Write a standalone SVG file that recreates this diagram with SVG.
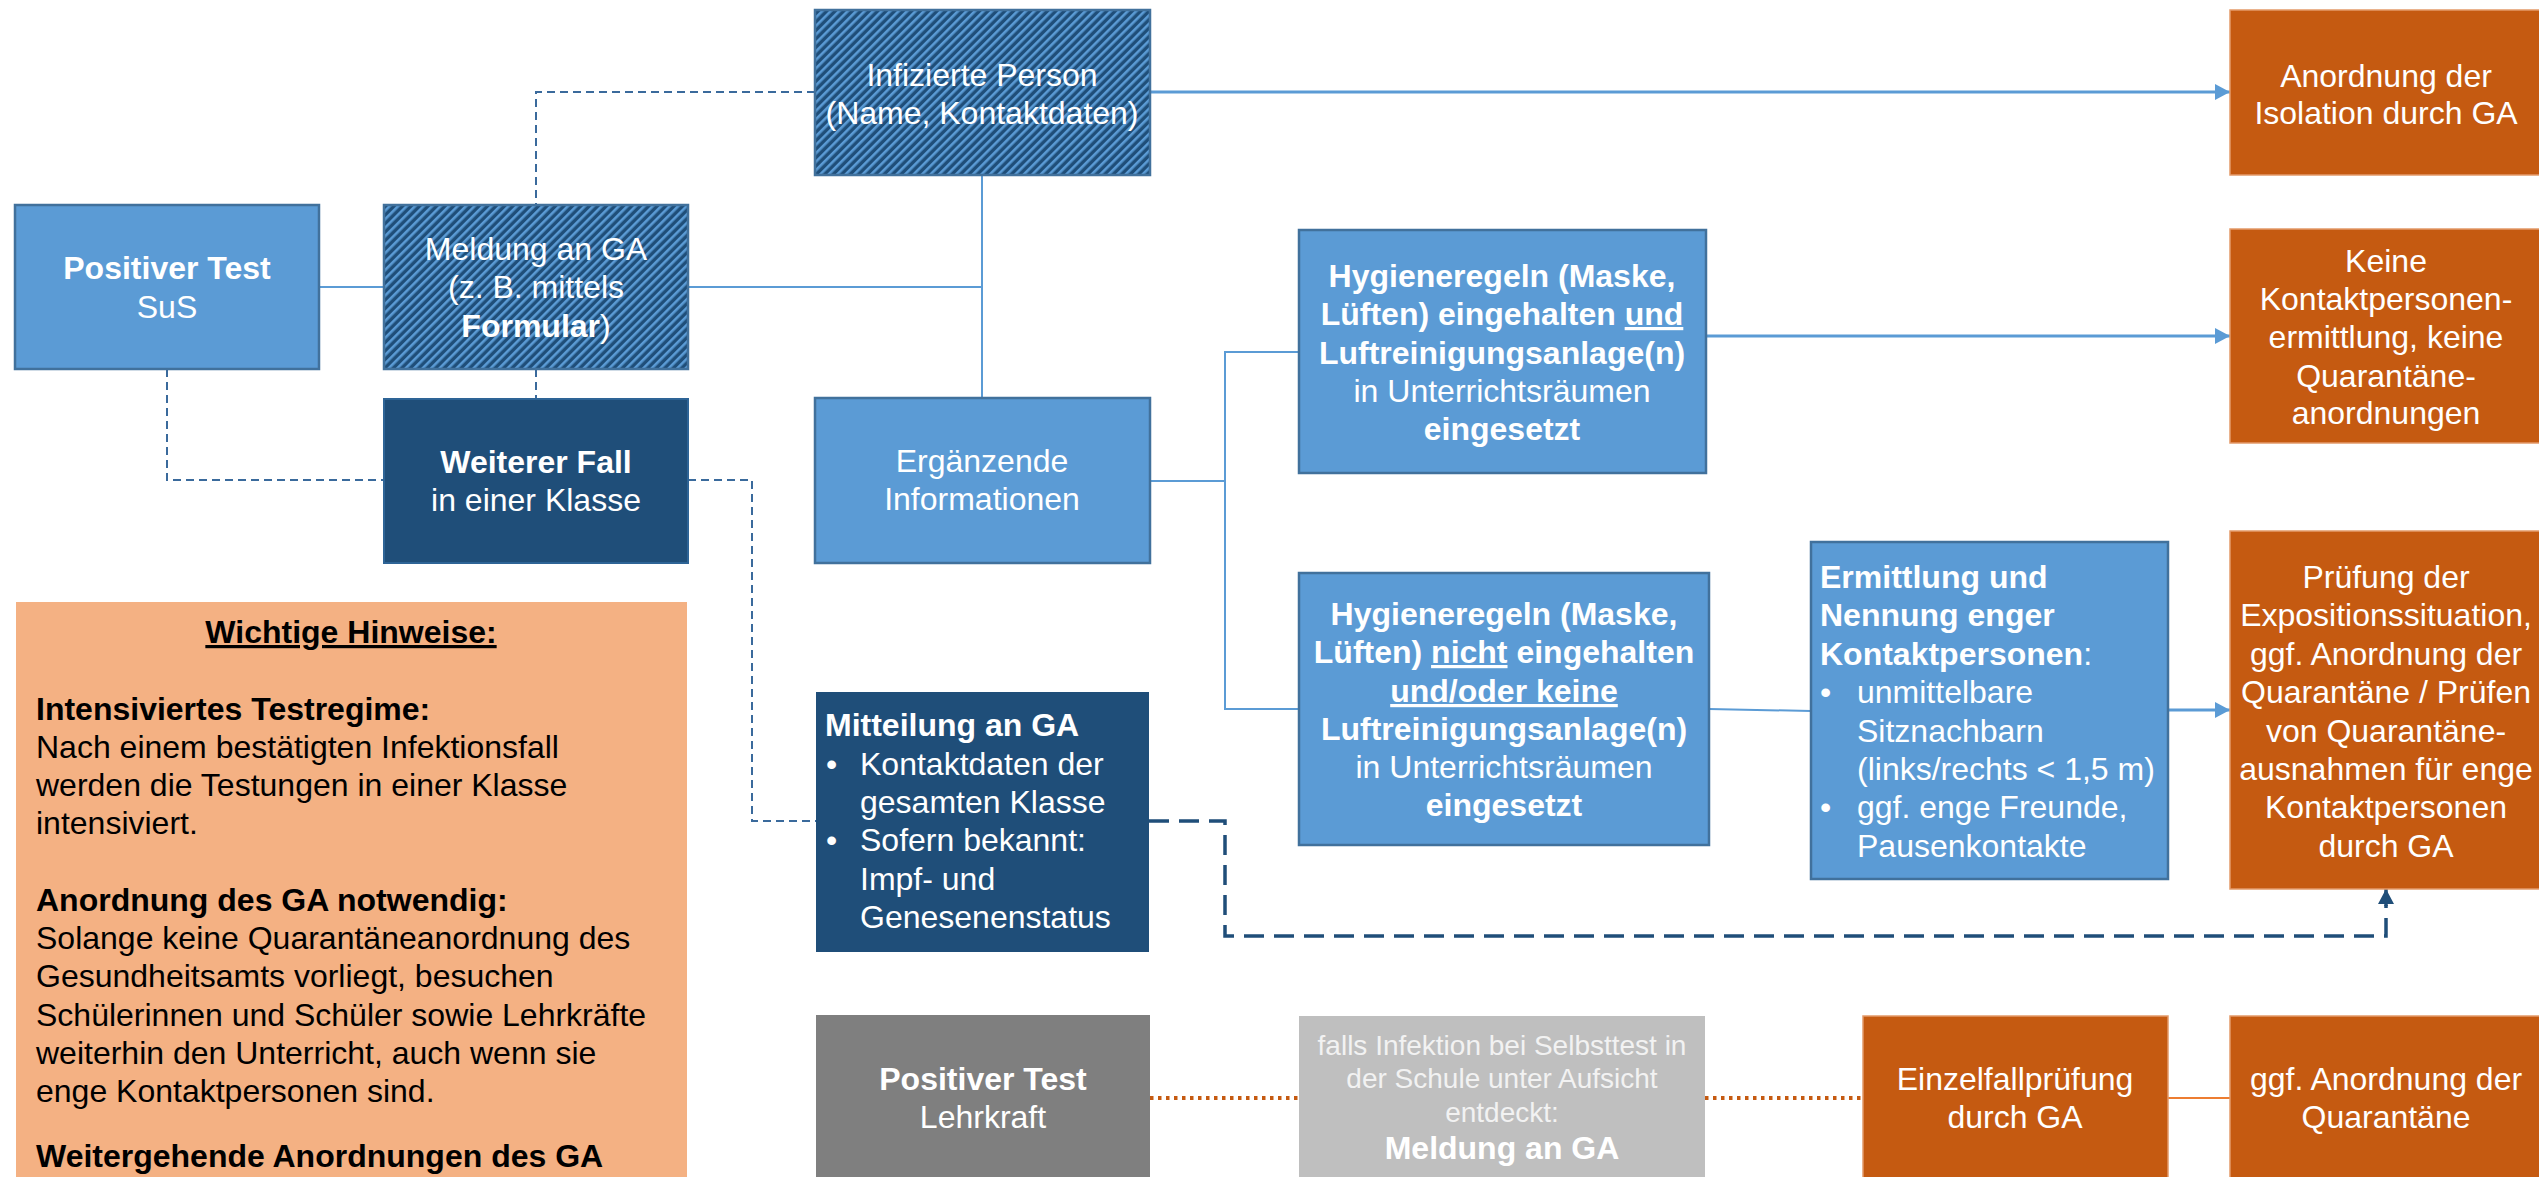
<svg xmlns="http://www.w3.org/2000/svg" width="2539" height="1177" viewBox="0 0 2539 1177">
<style>
text{font-family:"Liberation Sans",Arial,sans-serif;font-size:32px;fill:#fff}
.c{text-anchor:middle}
.b{font-weight:bold}
.k{fill:#000}
.g{fill:#F2F2F2;font-size:28px}
.blue{fill:#5B9BD5;stroke:#41719C;stroke-width:2.5}
.dark{fill:#1F4E79;stroke:#2E6496;stroke-width:2}
.hat{fill:url(#hatch);stroke:#41719C;stroke-width:2.5}
.org{fill:#C55A11;stroke:#E39A6A;stroke-width:1.5}
.ln{fill:none;stroke:#5B9BD5;stroke-width:2}
.ar{fill:none;stroke:#5B9BD5;stroke-width:3}
.dsh{fill:none;stroke:#3A6A9C;stroke-width:2;stroke-dasharray:8 5}
.dsh2{fill:none;stroke:#1F4E79;stroke-width:3.5;stroke-dasharray:20 10}
.dot{fill:none;stroke:#C55A11;stroke-width:4;stroke-dasharray:3.5 4.5}
</style>
<defs>
<pattern id="hatch" patternUnits="userSpaceOnUse" width="6" height="6" patternTransform="rotate(45)">
<rect width="6" height="6" fill="#1F4E79"/>
<rect width="2.6" height="6" fill="#5B9BD5"/>
</pattern>
<marker id="ab" markerUnits="userSpaceOnUse" markerWidth="16" markerHeight="18" refX="15" refY="8" orient="auto">
<path d="M0,0 L15,8 L0,16 Z" fill="#5B9BD5"/>
</marker>
<marker id="ad" markerUnits="userSpaceOnUse" markerWidth="16" markerHeight="18" refX="15" refY="8" orient="auto">
<path d="M0,0 L15,8 L0,16 Z" fill="#1F4E79"/>
</marker>
</defs>
<rect width="2539" height="1177" fill="#fff"/>

<g id="connectors">
<line class="ln" x1="319" y1="287" x2="384" y2="287"/>
<line class="ln" x1="688" y1="287" x2="982" y2="287"/>
<line class="ln" x1="982" y1="175" x2="982" y2="398"/>
<line class="ar" x1="1150" y1="92" x2="2230" y2="92" marker-end="url(#ab)"/>
<path class="dsh" d="M815,92 H536 V205"/>
<path class="dsh" d="M536,369 V399"/>
<path class="dsh" d="M167,369 V480 H384"/>
<path class="dsh" d="M688,480 H752 V821 H816"/>
<path class="ln" d="M1150,481 H1225"/>
<path class="ln" d="M1299,352 H1225 V709 H1299"/>
<line class="ar" x1="1706" y1="336" x2="2230" y2="336" marker-end="url(#ab)"/>
<line class="ln" x1="1709" y1="709" x2="1811" y2="711"/>
<line class="ar" x1="2168" y1="710" x2="2230" y2="710" marker-end="url(#ab)"/>
<path class="dsh2" d="M1149,821 H1225 V936 H2386 V905"/>
<line x1="2386" y1="906" x2="2386" y2="889" stroke="#1F4E79" stroke-width="3.5" marker-end="url(#ad)"/>
<line class="dot" x1="1150" y1="1098" x2="1299" y2="1098"/>
<line class="dot" x1="1705" y1="1098" x2="1863" y2="1098"/>
<line x1="2168" y1="1098" x2="2230" y2="1098" stroke="#ED7D31" stroke-width="2"/>
</g>

<g id="positiver-test-sus">
<rect class="blue" x="15" y="205" width="304" height="164"/>
<text class="c b" x="167" y="279">Positiver Test</text>
<text class="c" x="167" y="318">SuS</text>
</g>

<g id="meldung-an-ga">
<rect class="hat" x="384" y="205" width="304" height="164"/>
<text class="c" x="536" y="260">Meldung an GA</text>
<text class="c" x="536" y="298">(z. B. mittels</text>
<text class="c" x="536" y="337"><tspan class="b">Formular</tspan>)</text>
</g>

<g id="weiterer-fall">
<rect class="dark" x="384" y="399" width="304" height="164"/>
<text class="c b" x="536" y="473">Weiterer Fall</text>
<text class="c" x="536" y="511">in einer Klasse</text>
</g>

<g id="infizierte-person">
<rect class="hat" x="815" y="10" width="335" height="165"/>
<text class="c" x="982" y="86">Infizierte Person</text>
<text class="c" x="982" y="124">(Name, Kontaktdaten)</text>
</g>

<g id="ergaenzende-informationen">
<rect class="blue" x="815" y="398" width="335" height="165"/>
<text class="c" x="982" y="472">Ergänzende</text>
<text class="c" x="982" y="510">Informationen</text>
</g>

<g id="mitteilung-an-ga">
<rect x="816" y="692" width="333" height="260" fill="#1F4E79"/>
<text class="b" x="825" y="736">Mitteilung an GA</text>
<text x="826" y="775">•</text>
<text x="860" y="775">Kontaktdaten der</text>
<text x="860" y="813">gesamten Klasse</text>
<text x="826" y="851">•</text>
<text x="860" y="851">Sofern bekannt:</text>
<text x="860" y="890">Impf- und</text>
<text x="860" y="928">Genesenenstatus</text>
</g>

<g id="positiver-test-lehrkraft">
<rect x="816" y="1015" width="334" height="180" fill="#7F7F7F"/>
<text class="c b" x="983" y="1090">Positiver Test</text>
<text class="c" x="983" y="1128">Lehrkraft</text>
</g>

<g id="hygiene-eingehalten">
<rect class="blue" x="1299" y="230" width="407" height="243"/>
<text class="c b" x="1502" y="287">Hygieneregeln (Maske,</text>
<text class="c b" x="1502" y="325">Lüften) eingehalten <tspan text-decoration="underline">und</tspan></text>
<text class="c b" x="1502" y="364">Luftreinigungsanlage(n)</text>
<text class="c" x="1502" y="402">in Unterrichtsräumen</text>
<text class="c b" x="1502" y="440">eingesetzt</text>
</g>

<g id="hygiene-nicht-eingehalten">
<rect class="blue" x="1299" y="573" width="410" height="272"/>
<text class="c b" x="1504" y="625">Hygieneregeln (Maske,</text>
<text class="c b" x="1504" y="663">Lüften) <tspan text-decoration="underline">nicht</tspan> eingehalten</text>
<text class="c b" x="1504" y="702" text-decoration="underline">und/oder keine</text>
<text class="c b" x="1504" y="740">Luftreinigungsanlage(n)</text>
<text class="c" x="1504" y="778">in Unterrichtsräumen</text>
<text class="c b" x="1504" y="816">eingesetzt</text>
</g>

<g id="ermittlung-kontaktpersonen">
<rect class="blue" x="1811" y="542" width="357" height="337"/>
<text class="b" x="1820" y="588">Ermittlung und</text>
<text class="b" x="1820" y="626">Nennung enger</text>
<text x="1820" y="665"><tspan class="b">Kontaktpersonen</tspan>:</text>
<text x="1820" y="703">•</text>
<text x="1857" y="703">unmittelbare</text>
<text x="1857" y="742">Sitznachbarn</text>
<text x="1857" y="780">(links/rechts &lt; 1,5 m)</text>
<text x="1820" y="818">•</text>
<text x="1857" y="818">ggf. enge Freunde,</text>
<text x="1857" y="857">Pausenkontakte</text>
</g>

<g id="falls-infektion">
<rect x="1299" y="1016" width="406" height="180" fill="#BFBFBF"/>
<text class="c g" x="1502" y="1055">falls Infektion bei Selbsttest in</text>
<text class="c g" x="1502" y="1088">der Schule unter Aufsicht</text>
<text class="c g" x="1502" y="1122">entdeckt:</text>
<text class="c b" x="1502" y="1159" fill="#F2F2F2">Meldung an GA</text>
</g>

<g id="einzelfallpruefung">
<rect class="org" x="1863" y="1016" width="305" height="180"/>
<text class="c" x="2015" y="1090">Einzelfallprüfung</text>
<text class="c" x="2015" y="1128">durch GA</text>
</g>

<g id="anordnung-isolation">
<rect class="org" x="2230" y="10" width="312" height="165"/>
<text class="c" x="2386" y="87">Anordnung der</text>
<text class="c" x="2386" y="124">Isolation durch GA</text>
</g>

<g id="keine-kontaktpersonenermittlung">
<rect class="org" x="2230" y="229" width="312" height="214"/>
<text class="c" x="2386" y="272">Keine</text>
<text class="c" x="2386" y="310">Kontaktpersonen-</text>
<text class="c" x="2386" y="348">ermittlung, keine</text>
<text class="c" x="2386" y="387">Quarantäne-</text>
<text class="c" x="2386" y="424">anordnungen</text>
</g>

<g id="pruefung-exposition">
<rect class="org" x="2230" y="531" width="312" height="358"/>
<text class="c" x="2386" y="588">Prüfung der</text>
<text class="c" x="2386" y="626">Expositionssituation,</text>
<text class="c" x="2386" y="665">ggf. Anordnung der</text>
<text class="c" x="2386" y="703">Quarantäne / Prüfen</text>
<text class="c" x="2386" y="742">von Quarantäne-</text>
<text class="c" x="2386" y="780">ausnahmen für enge</text>
<text class="c" x="2386" y="818">Kontaktpersonen</text>
<text class="c" x="2386" y="857">durch GA</text>
</g>

<g id="anordnung-quarantaene">
<rect class="org" x="2230" y="1016" width="312" height="180"/>
<text class="c" x="2386" y="1090">ggf. Anordnung der</text>
<text class="c" x="2386" y="1128">Quarantäne</text>
</g>

<g id="wichtige-hinweise">
<rect x="16" y="602" width="671" height="600" fill="#F4B183"/>
<text class="c b k" x="351" y="643" text-decoration="underline">Wichtige Hinweise:</text>
<text class="b k" x="36" y="720">Intensiviertes Testregime:</text>
<text class="k" x="36" y="758">Nach einem bestätigten Infektionsfall</text>
<text class="k" x="36" y="796">werden die Testungen in einer Klasse</text>
<text class="k" x="36" y="834">intensiviert.</text>
<text class="b k" x="36" y="911">Anordnung des GA notwendig:</text>
<text class="k" x="36" y="949">Solange keine Quarantäneanordnung des</text>
<text class="k" x="36" y="987">Gesundheitsamts vorliegt, besuchen</text>
<text class="k" x="36" y="1026">Schülerinnen und Schüler sowie Lehrkräfte</text>
<text class="k" x="36" y="1064">weiterhin den Unterricht, auch wenn sie</text>
<text class="k" x="36" y="1102">enge Kontaktpersonen sind.</text>
<text class="b k" x="36" y="1167">Weitergehende Anordnungen des GA</text>
</g>
</svg>
